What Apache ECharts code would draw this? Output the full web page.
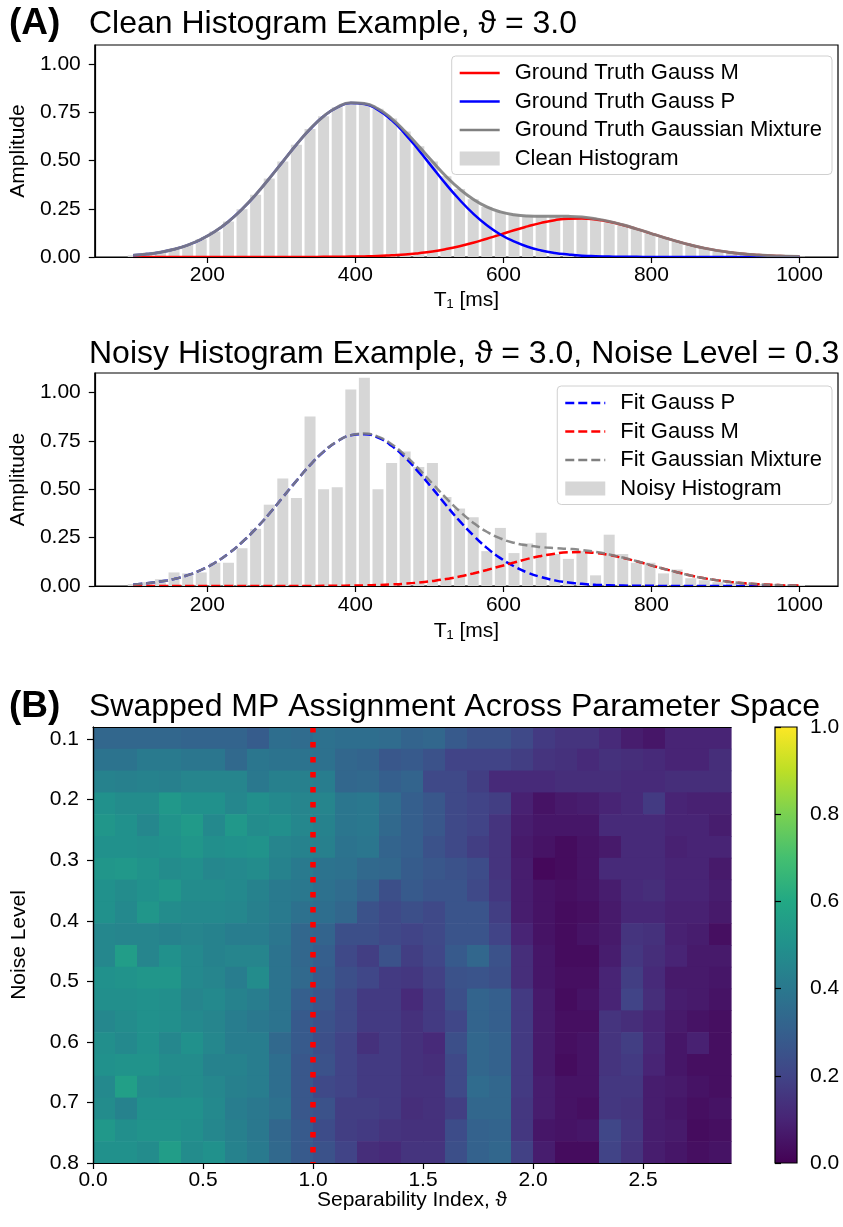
<!DOCTYPE html>
<html>
<head>
<meta charset="utf-8">
<script src="https://cdn.jsdelivr.net/npm/echarts@6/dist/echarts.min.js"></script>
<style>
html, body { margin: 0; padding: 0; background: #fff; }
#main { width: 843px; height: 1227px; }
</style>
</head>
<body>
<div id="main"></div>
<script>
// histogram bin centres, T1 in ms
var binCenters = [100.0, 118.4, 136.7, 155.1, 173.5, 191.8, 210.2, 228.6, 246.9, 265.3,
    283.7, 302.0, 320.4, 338.8, 357.1, 375.5, 393.9, 412.2, 430.6, 449.0,
    467.3, 485.7, 504.1, 522.4, 540.8, 559.2, 577.6, 595.9, 614.3, 632.7,
    651.0, 669.4, 687.8, 706.1, 724.5, 742.9, 761.2, 779.6, 798.0, 816.3,
    834.7, 853.1, 871.4, 889.8, 908.2, 926.5, 944.9, 963.3, 981.6, 1000.0];

// panel A, clean example
var cleanHist = [0.009, 0.015, 0.025, 0.040, 0.062, 0.092, 0.132, 0.184, 0.248, 0.323,
    0.407, 0.495, 0.583, 0.664, 0.730, 0.777, 0.800, 0.797, 0.769, 0.718,
    0.651, 0.574, 0.495, 0.419, 0.353, 0.300, 0.260, 0.234, 0.219, 0.213,
    0.212, 0.212, 0.211, 0.207, 0.198, 0.185, 0.167, 0.146, 0.124, 0.102,
    0.081, 0.062, 0.046, 0.033, 0.023, 0.015, 0.010, 0.006, 0.004, 0.002];
var truthGaussM = [0, 0, 0, 0, 0, 0, 0, 0, 0, 0,
    0, 0, 0, 0.000, 0.001, 0.001, 0.002, 0.003, 0.005, 0.009,
    0.013, 0.020, 0.029, 0.041, 0.056, 0.074, 0.095, 0.116, 0.139, 0.159,
    0.177, 0.191, 0.199, 0.200, 0.194, 0.183, 0.166, 0.146, 0.124, 0.102,
    0.081, 0.062, 0.046, 0.033, 0.023, 0.015, 0.010, 0.006, 0.004, 0.002];
var truthGaussP = [0.009, 0.015, 0.025, 0.040, 0.062, 0.092, 0.132, 0.184, 0.248, 0.323,
    0.407, 0.495, 0.583, 0.663, 0.730, 0.776, 0.799, 0.794, 0.763, 0.710,
    0.638, 0.554, 0.465, 0.378, 0.297, 0.225, 0.165, 0.117, 0.081, 0.053,
    0.034, 0.021, 0.013, 0.007, 0.004, 0.002, 0.001, 0.001, 0, 0,
    0, 0, 0, 0, 0, 0, 0, 0, 0, 0];
var truthMixture = cleanHist;

// panel A, noisy example
var noisyHist = [0.010, 0.020, 0.035, 0.070, 0.065, 0.070, 0.120, 0.120, 0.195, 0.295,
    0.420, 0.555, 0.455, 0.875, 0.500, 0.510, 1.015, 1.075, 0.500, 0.635,
    0.695, 0.615, 0.635, 0.460, 0.400, 0.355, 0.180, 0.300, 0.170, 0.220,
    0.275, 0.165, 0.140, 0.180, 0.055, 0.265, 0.165, 0.120, 0.120, 0.065,
    0.085, 0.040, 0.030, 0.020, 0.015, 0.010, 0.010, 0.010, 0.005, 0.005];
var fitGaussP = [0.008, 0.014, 0.023, 0.036, 0.056, 0.083, 0.120, 0.167, 0.226, 0.295,
    0.373, 0.458, 0.543, 0.624, 0.693, 0.746, 0.778, 0.784, 0.766, 0.724,
    0.663, 0.587, 0.504, 0.418, 0.336, 0.262, 0.197, 0.144, 0.102, 0.069,
    0.046, 0.029, 0.018, 0.011, 0.006, 0.004, 0.002, 0.001, 0.001, 0,
    0, 0, 0, 0, 0, 0, 0, 0, 0, 0];
var fitGaussM = [0, 0, 0, 0, 0, 0, 0, 0, 0, 0,
    0, 0, 0, 0.000, 0.001, 0.001, 0.002, 0.003, 0.005, 0.008,
    0.012, 0.018, 0.026, 0.036, 0.049, 0.065, 0.083, 0.102, 0.121, 0.140,
    0.155, 0.167, 0.174, 0.175, 0.170, 0.160, 0.145, 0.128, 0.108, 0.089,
    0.071, 0.054, 0.040, 0.029, 0.020, 0.014, 0.009, 0.006, 0.003, 0.002];
var fitMixture = [0.008, 0.014, 0.023, 0.036, 0.056, 0.083, 0.120, 0.167, 0.226, 0.295,
    0.373, 0.458, 0.543, 0.624, 0.694, 0.747, 0.779, 0.787, 0.771, 0.732,
    0.675, 0.605, 0.529, 0.455, 0.386, 0.327, 0.280, 0.246, 0.223, 0.209,
    0.201, 0.196, 0.192, 0.186, 0.176, 0.163, 0.147, 0.129, 0.109, 0.089,
    0.071, 0.054, 0.040, 0.029, 0.020, 0.014, 0.009, 0.006, 0.003, 0.002];

var t1Ticks = [200, 400, 600, 800, 1000];
var ampTicks = [0, 0.25, 0.5, 0.75, 1.0];

// panel B, cell edges and swap rates (rows: noise level top to bottom, cols: theta)
var thetaEdges = [0.0, 0.1, 0.2, 0.3, 0.4, 0.5, 0.6, 0.7, 0.8, 0.9, 1.0, 1.1, 1.2, 1.3, 1.4,
    1.5, 1.6, 1.7, 1.8, 1.9, 2.0, 2.1, 2.2, 2.3, 2.4, 2.5, 2.6, 2.7, 2.8, 2.9];
var noiseEdges = [0.080, 0.116, 0.152, 0.188, 0.224, 0.260, 0.296, 0.332, 0.368, 0.404, 0.440,
    0.476, 0.512, 0.548, 0.584, 0.620, 0.656, 0.692, 0.728, 0.764, 0.800];
var swapRate = [
    [0.33,0.33,0.33,0.33,0.32,0.32,0.32,0.29,0.36,0.35,0.37,0.36,0.36,0.35,0.32,0.33,0.28,0.25,0.25,0.22,0.17,0.15,0.15,0.12,0.08,0.06,0.10,0.10,0.10],
    [0.38,0.38,0.41,0.41,0.39,0.39,0.34,0.39,0.38,0.38,0.37,0.33,0.32,0.27,0.28,0.25,0.20,0.20,0.20,0.18,0.15,0.14,0.12,0.14,0.13,0.12,0.10,0.10,0.13],
    [0.44,0.43,0.44,0.43,0.45,0.45,0.45,0.40,0.43,0.43,0.42,0.33,0.34,0.30,0.32,0.22,0.22,0.18,0.12,0.12,0.12,0.13,0.13,0.13,0.12,0.12,0.13,0.13,0.13],
    [0.50,0.48,0.48,0.53,0.50,0.50,0.46,0.49,0.47,0.45,0.45,0.39,0.40,0.35,0.30,0.27,0.22,0.20,0.18,0.09,0.05,0.07,0.08,0.10,0.12,0.17,0.10,0.09,0.09],
    [0.52,0.50,0.46,0.51,0.54,0.47,0.53,0.48,0.49,0.46,0.44,0.39,0.40,0.34,0.30,0.27,0.22,0.20,0.15,0.08,0.06,0.06,0.06,0.12,0.12,0.12,0.10,0.10,0.08],
    [0.50,0.50,0.49,0.50,0.52,0.49,0.50,0.51,0.45,0.44,0.43,0.38,0.39,0.32,0.30,0.25,0.22,0.18,0.15,0.07,0.05,0.03,0.05,0.07,0.12,0.12,0.09,0.10,0.10],
    [0.52,0.53,0.51,0.48,0.49,0.46,0.47,0.48,0.44,0.41,0.38,0.37,0.34,0.33,0.29,0.27,0.25,0.23,0.15,0.08,0.02,0.03,0.05,0.12,0.12,0.12,0.10,0.10,0.07],
    [0.50,0.48,0.50,0.52,0.48,0.48,0.47,0.44,0.41,0.40,0.37,0.35,0.31,0.24,0.28,0.26,0.26,0.22,0.16,0.08,0.05,0.04,0.05,0.08,0.12,0.13,0.10,0.10,0.08],
    [0.50,0.47,0.52,0.48,0.47,0.47,0.46,0.43,0.41,0.37,0.36,0.33,0.25,0.22,0.24,0.22,0.26,0.26,0.18,0.08,0.05,0.03,0.04,0.07,0.11,0.11,0.09,0.09,0.07],
    [0.46,0.45,0.45,0.44,0.45,0.44,0.42,0.42,0.39,0.33,0.32,0.24,0.24,0.22,0.20,0.22,0.26,0.26,0.20,0.10,0.05,0.03,0.05,0.07,0.15,0.14,0.09,0.08,0.04],
    [0.46,0.55,0.45,0.50,0.47,0.44,0.45,0.45,0.38,0.33,0.30,0.22,0.18,0.25,0.18,0.21,0.28,0.33,0.25,0.13,0.06,0.03,0.03,0.08,0.16,0.13,0.10,0.07,0.07],
    [0.50,0.51,0.52,0.52,0.47,0.45,0.42,0.48,0.38,0.34,0.29,0.24,0.21,0.17,0.16,0.19,0.25,0.26,0.24,0.13,0.06,0.04,0.04,0.10,0.18,0.12,0.07,0.07,0.06],
    [0.49,0.49,0.50,0.49,0.45,0.47,0.44,0.42,0.38,0.30,0.27,0.22,0.17,0.17,0.12,0.17,0.24,0.32,0.30,0.17,0.07,0.03,0.05,0.10,0.20,0.13,0.08,0.07,0.05],
    [0.46,0.48,0.50,0.49,0.47,0.45,0.42,0.40,0.38,0.28,0.25,0.22,0.17,0.17,0.14,0.17,0.21,0.32,0.30,0.17,0.07,0.04,0.04,0.15,0.13,0.10,0.07,0.05,0.04],
    [0.49,0.47,0.50,0.46,0.50,0.46,0.42,0.42,0.34,0.28,0.24,0.20,0.14,0.17,0.14,0.12,0.24,0.33,0.31,0.17,0.07,0.04,0.05,0.15,0.18,0.11,0.06,0.09,0.04],
    [0.50,0.51,0.51,0.48,0.48,0.44,0.44,0.42,0.36,0.27,0.25,0.20,0.17,0.17,0.14,0.13,0.22,0.33,0.31,0.17,0.07,0.03,0.05,0.15,0.17,0.10,0.06,0.04,0.04],
    [0.47,0.56,0.48,0.47,0.48,0.46,0.43,0.42,0.36,0.27,0.22,0.20,0.17,0.17,0.14,0.14,0.22,0.35,0.33,0.17,0.08,0.05,0.05,0.16,0.16,0.08,0.07,0.05,0.04],
    [0.48,0.44,0.50,0.50,0.50,0.47,0.42,0.40,0.37,0.27,0.25,0.18,0.18,0.17,0.13,0.14,0.18,0.33,0.33,0.16,0.08,0.05,0.04,0.16,0.15,0.08,0.06,0.04,0.05],
    [0.53,0.49,0.51,0.51,0.49,0.46,0.43,0.40,0.33,0.28,0.23,0.18,0.17,0.15,0.14,0.14,0.23,0.31,0.32,0.16,0.06,0.05,0.06,0.21,0.16,0.08,0.07,0.03,0.04],
    [0.50,0.50,0.48,0.55,0.48,0.50,0.44,0.41,0.34,0.28,0.25,0.20,0.13,0.12,0.15,0.15,0.24,0.31,0.33,0.19,0.08,0.03,0.03,0.20,0.15,0.08,0.06,0.04,0.05]
];
var thetaThreshold = 1.0;
var thetaTicks = [0, 0.5, 1.0, 1.5, 2.0, 2.5];
var noiseTicks = [0.1, 0.2, 0.3, 0.4, 0.5, 0.6, 0.7, 0.8];
var colorbarTicks = [0, 0.2, 0.4, 0.6, 0.8, 1.0];
var viridis = ['#440154', '#482475', '#414487', '#355f8d', '#2a788e', '#21918c',
    '#22a884', '#44bf70', '#7ad151', '#bddf26', '#fde725'];

var font = "'Liberation Sans', Arial, Helvetica, sans-serif";
// legend handles: solid and dashed line glyphs
var solidIcon = 'path://M0,0h40v2.6h-40z';
var dashedIcon = 'path://M0,0h9v2.6h-9zM13,0h9v2.6h-9zM26,0h9v2.6h-9zM39,0h1v2.6h-1z';

function pairs(xs, ys) {
    return xs.map(function (x, i) { return [x, ys[i]]; });
}

var heatData = [];
swapRate.forEach(function (row, r) {
    row.forEach(function (v, c) {
        heatData.push([thetaEdges[c], noiseEdges[r], v, thetaEdges[c + 1], noiseEdges[r + 1]]);
    });
});

var tickStyle = { show: true, length: 6, lineStyle: { color: '#000', width: 1.2 } };
var lineAxis = { show: true, lineStyle: { color: '#000', width: 1.2 } };
var labelStyle = { color: '#000', fontSize: 21, fontFamily: font };
var nameStyle = { fontSize: 21, fontFamily: font, color: '#000' };
var titleStyle = { fontSize: 32, fontWeight: 'normal', fontFamily: font, color: '#000' };
var panelStyle = { fontSize: 37, fontWeight: 'bold', fontFamily: font, color: '#000' };
var legendBase = {
    orient: 'vertical', right: 11,
    itemWidth: 40, itemHeight: 14, itemGap: 6.5,
    padding: [6, 10, 5, 8],
    backgroundColor: 'rgba(255,255,255,0.8)', borderColor: '#d0d0d0', borderWidth: 1, borderRadius: 4,
    selectedMode: false,
    textStyle: { fontSize: 22, fontFamily: font, color: '#000', padding: [0, 0, 0, 10] }
};

var myChart = echarts.init(document.getElementById('main'), null, { renderer: 'canvas' });
var option = {
    animation: false,
    backgroundColor: '#fff',
    textStyle: { fontFamily: font, color: '#000' },
    title: [
        { text: '(A)', left: 9, top: 5, padding: 0, textStyle: panelStyle },
        { text: 'Clean Histogram Example, \u03d1 = 3.0', left: 89, top: 8, padding: 0, textStyle: titleStyle },
        { text: 'Noisy Histogram Example, \u03d1 = 3.0, Noise Level = 0.3', left: 89, top: 338, padding: 0, textStyle: titleStyle },
        { text: '(B)', left: 9, top: 688, padding: 0, textStyle: panelStyle },
        { text: 'Swapped MP Assignment Across Parameter Space', left: 89, top: 691, padding: 0, textStyle: titleStyle }
    ],
    legend: [
        Object.assign({
            //上图图例
            top: 56,
            data: [
                { name: 'Ground Truth Gauss M', icon: solidIcon },
                { name: 'Ground Truth Gauss P', icon: solidIcon },
                { name: 'Ground Truth Gaussian Mixture', icon: solidIcon },
                { name: 'Clean Histogram', icon: 'rect' }
            ]
        }, legendBase),
        Object.assign({
            top: 386,
            data: [
                { name: 'Fit Gauss P', icon: dashedIcon },
                { name: 'Fit Gauss M', icon: dashedIcon },
                { name: 'Fit Gaussian Mixture', icon: dashedIcon },
                { name: 'Noisy Histogram', icon: 'rect' }
            ]
        }, legendBase)
    ],
    grid: [
        { left: 92.7, top: 45, width: 745.3, height: 212, show: true, borderColor: '#000', borderWidth: 1.2, backgroundColor: 'transparent' },
        { left: 92.7, top: 373, width: 745.3, height: 213, show: true, borderColor: '#000', borderWidth: 1.2, backgroundColor: 'transparent' },
        { left: 93, top: 727, width: 638, height: 436 },
        { left: 775, top: 727, width: 22, height: 436 }
    ],
    xAxis: [
        {
            gridIndex: 0, type: 'value', min: 48, max: 1052, z: 5,
            name: 'T\u2081 [ms]', nameLocation: 'middle', nameGap: 33, nameTextStyle: nameStyle,
            axisLine: lineAxis, axisTick: Object.assign({ customValues: t1Ticks }, tickStyle),
            axisLabel: Object.assign({ customValues: t1Ticks, margin: 8, formatter: function (v) { return String(v); } }, labelStyle),
            splitLine: { show: false }
        },
        {
            gridIndex: 1, type: 'value', min: 48, max: 1052, z: 5,
            name: 'T\u2081 [ms]', nameLocation: 'middle', nameGap: 35, nameTextStyle: nameStyle,
            axisLine: lineAxis, axisTick: Object.assign({ customValues: t1Ticks }, tickStyle),
            axisLabel: Object.assign({ customValues: t1Ticks, margin: 9, formatter: function (v) { return String(v); } }, labelStyle),
            splitLine: { show: false }
        },
        {
            gridIndex: 2, type: 'value', min: 0, max: 2.9, z: 10,
            name: 'Separability Index, \u03d1', nameLocation: 'middle', nameGap: 27, nameMoveOverlap: false, nameTextStyle: nameStyle,
            axisLine: lineAxis, axisTick: Object.assign({ customValues: thetaTicks }, tickStyle),
            axisLabel: Object.assign({ customValues: thetaTicks, margin: 7, formatter: function (v) { return v.toFixed(1); } }, labelStyle),
            splitLine: { show: false }
        },
        {
            gridIndex: 2, type: 'value', min: 0, max: 2.9, position: 'top', z: 10,
            axisLine: lineAxis, axisTick: { show: false }, axisLabel: { show: false }, splitLine: { show: false }
        },
        { gridIndex: 3, type: 'value', min: 0, max: 1, show: false }
    ],
    yAxis: [
        {
            gridIndex: 0, type: 'value', min: 0, max: 1.1, z: 5,
            name: 'Amplitude', nameLocation: 'middle', nameGap: 63, nameRotate: 90, nameTextStyle: nameStyle,
            axisLine: lineAxis, axisTick: Object.assign({ customValues: ampTicks }, tickStyle),
            axisLabel: Object.assign({ customValues: ampTicks, margin: 14, formatter: function (v) { return v.toFixed(2); } }, labelStyle),
            splitLine: { show: false }
        },
        {
            gridIndex: 1, type: 'value', min: 0, max: 1.1, z: 5,
            name: 'Amplitude', nameLocation: 'middle', nameGap: 63, nameRotate: 90, nameTextStyle: nameStyle,
            axisLine: lineAxis, axisTick: Object.assign({ customValues: ampTicks }, tickStyle),
            axisLabel: Object.assign({ customValues: ampTicks, margin: 14, formatter: function (v) { return v.toFixed(2); } }, labelStyle),
            splitLine: { show: false }
        },
        {
            gridIndex: 2, type: 'value', min: 0.08, max: 0.8, inverse: true, z: 10,
            name: 'Noise Level', nameLocation: 'middle', nameGap: 63, nameRotate: 90, nameTextStyle: nameStyle,
            axisLine: lineAxis, axisTick: Object.assign({ customValues: noiseTicks }, tickStyle),
            axisLabel: Object.assign({ customValues: noiseTicks, margin: 14, formatter: function (v) { return v.toFixed(1); } }, labelStyle),
            splitLine: { show: false }
        },
        {
            gridIndex: 2, type: 'value', min: 0.08, max: 0.8, inverse: true, position: 'right', z: 10,
            axisLine: lineAxis, axisTick: { show: false }, axisLabel: { show: false }, splitLine: { show: false }
        },
        {
            gridIndex: 3, type: 'value', min: 0, max: 1, position: 'right', z: 10,
            axisLine: { show: false }, axisTick: Object.assign({ customValues: colorbarTicks }, tickStyle),
            axisLabel: Object.assign({ customValues: colorbarTicks, margin: 13, formatter: function (v) { return v.toFixed(1); } }, labelStyle),
            splitLine: { show: false }
        }
    ],
    visualMap: {
        show: false, type: 'continuous', seriesIndex: 8, dimension: 2,
        min: 0, max: 1, inRange: { color: viridis }
    },
    series: [
        {
            name: 'Clean Histogram', type: 'bar', xAxisIndex: 0, yAxisIndex: 0,
            barWidth: 11, itemStyle: { color: '#d6d6d6' },
            data: pairs(binCenters, cleanHist)
        },
        {
            name: 'Ground Truth Gauss M', type: 'line', xAxisIndex: 0, yAxisIndex: 0,
            symbol: 'none', smooth: true, lineStyle: { color: '#ff0000', width: 2.5 }, itemStyle: { color: '#ff0000' },
            data: pairs(binCenters, truthGaussM)
        },
        {
            name: 'Ground Truth Gauss P', type: 'line', xAxisIndex: 0, yAxisIndex: 0,
            symbol: 'none', smooth: true, lineStyle: { color: '#0000ff', width: 2.5 }, itemStyle: { color: '#0000ff' },
            data: pairs(binCenters, truthGaussP)
        },
        {
            name: 'Ground Truth Gaussian Mixture', type: 'line', xAxisIndex: 0, yAxisIndex: 0,
            symbol: 'none', smooth: true, lineStyle: { color: '#808080', width: 3, opacity: 0.9 }, itemStyle: { color: '#808080' },
            data: pairs(binCenters, truthMixture)
        },
        {
            name: 'Noisy Histogram', type: 'bar', xAxisIndex: 1, yAxisIndex: 1,
            barWidth: 11, itemStyle: { color: '#d6d6d6' },
            data: pairs(binCenters, noisyHist)
        },
        {
            name: 'Fit Gauss P', type: 'line', xAxisIndex: 1, yAxisIndex: 1,
            symbol: 'none', smooth: true, lineStyle: { color: '#0000ff', width: 2.5, type: [9, 4] }, itemStyle: { color: '#0000ff' },
            data: pairs(binCenters, fitGaussP)
        },
        {
            name: 'Fit Gauss M', type: 'line', xAxisIndex: 1, yAxisIndex: 1,
            symbol: 'none', smooth: true, lineStyle: { color: '#ff0000', width: 2.5, type: [9, 4] }, itemStyle: { color: '#ff0000' },
            data: pairs(binCenters, fitGaussM)
        },
        {
            name: 'Fit Gaussian Mixture', type: 'line', xAxisIndex: 1, yAxisIndex: 1,
            symbol: 'none', smooth: true, lineStyle: { color: '#808080', width: 2.5, type: [9, 4], opacity: 0.9 }, itemStyle: { color: '#808080' },
            data: pairs(binCenters, fitMixture)
        },
        {
            //热力图
            name: 'Swap Rate', type: 'custom', xAxisIndex: 2, yAxisIndex: 2,
            encode: { x: 0, y: 1 },
            renderItem: function (params, api) {
                var p0 = api.coord([api.value(0), api.value(1)]);
                var p1 = api.coord([api.value(3), api.value(4)]);
                return {
                    type: 'rect',
                    shape: {
                        x: Math.min(p0[0], p1[0]), y: Math.min(p0[1], p1[1]),
                        width: Math.abs(p1[0] - p0[0]) + 0.6, height: Math.abs(p1[1] - p0[1]) + 0.6
                    },
                    style: { fill: api.visual('color') }
                };
            },
            data: heatData
        },
        {
            name: 'Threshold', type: 'line', xAxisIndex: 2, yAxisIndex: 2, z: 6,
            symbol: 'none',
            lineStyle: { color: '#ff0000', width: 5.5, type: [5.5, 9.5], cap: 'butt' },
            data: [[thetaThreshold, noiseEdges[0]], [thetaThreshold, noiseEdges[noiseEdges.length - 1]]]
        },
        {
            //颜色条
            name: 'Colorbar', type: 'custom', xAxisIndex: 4, yAxisIndex: 4,
            renderItem: function (params, api) {
                var p0 = api.coord([api.value(0), api.value(1)]);
                var p1 = api.coord([api.value(2), api.value(3)]);
                var stops = viridis.map(function (c, i) { return { offset: i / (viridis.length - 1), color: c }; });
                return {
                    type: 'rect',
                    shape: { x: p0[0], y: p1[1], width: p1[0] - p0[0], height: p0[1] - p1[1] },
                    style: { fill: new echarts.graphic.LinearGradient(0, 1, 0, 0, stops), stroke: '#000', lineWidth: 1.2 }
                };
            },
            data: [[0, colorbarTicks[0], 1, colorbarTicks[colorbarTicks.length - 1]]]
        }
    ]
};
myChart.setOption(option);
</script>
</body>
</html>
